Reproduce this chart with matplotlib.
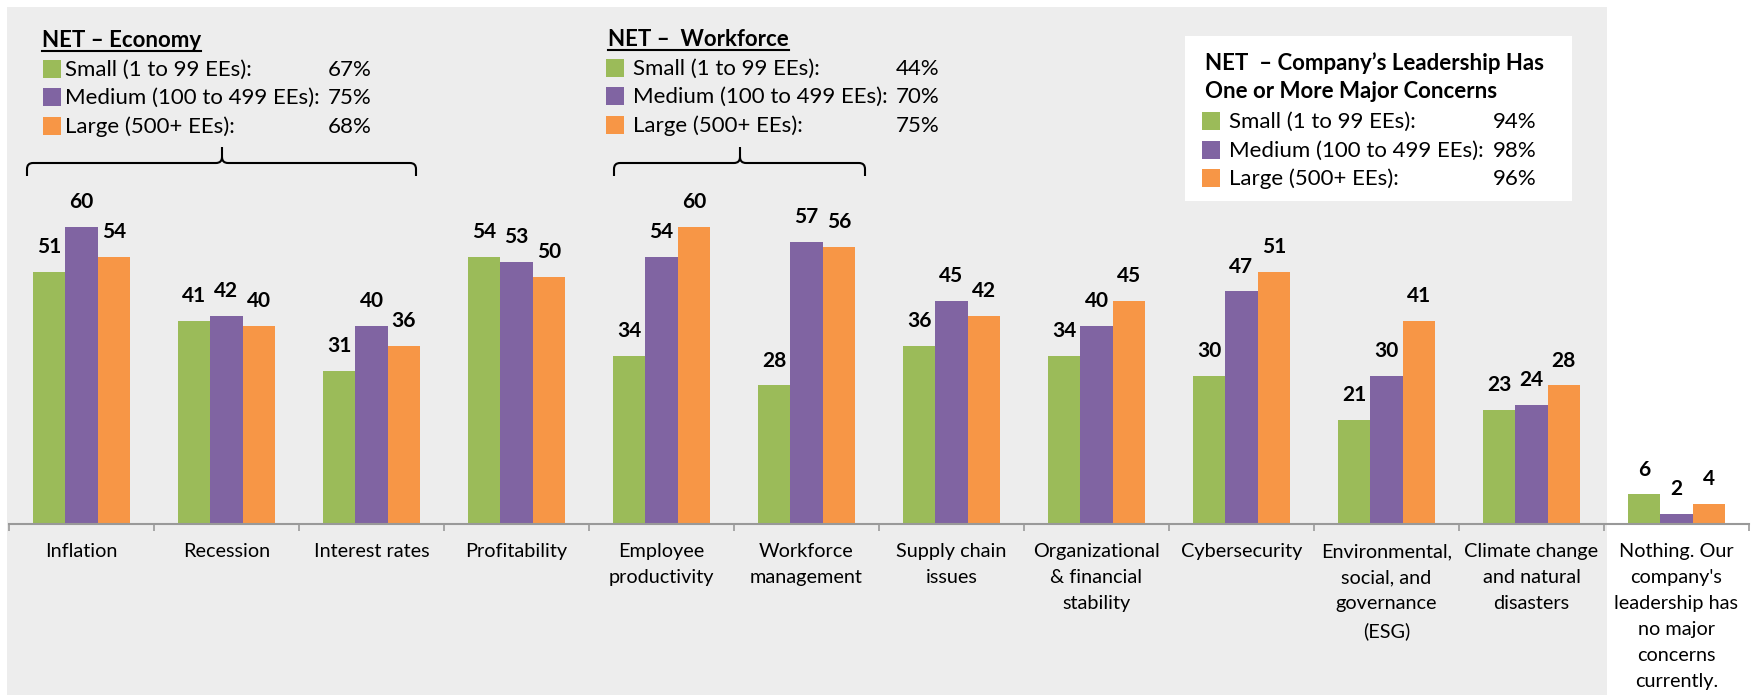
import numpy as np
import matplotlib
matplotlib.use('Agg')
import matplotlib.pyplot as plt
import matplotlib.transforms as mtransforms
from matplotlib.patches import Rectangle, PathPatch
from matplotlib.path import Path
from matplotlib.lines import Line2D

plt.rcParams['font.family'] = ['Lato', 'DejaVu Sans']

# Data
categories = ["Inflation", "Recession", "Interest rates", "Profitability",
              "Employee\nproductivity", "Workforce\nmanagement", "Supply chain\nissues",
              "Organizational\n& financial\nstability", "Cybersecurity",
              "Environmental,\nsocial, and\ngovernance\n(ESG)",
              "Climate change\nand natural\ndisasters",
              "Nothing. Our\ncompany's\nleadership has\nno major\nconcerns\ncurrently."]
small = [51, 41, 31, 54, 34, 28, 36, 34, 30, 21, 23, 6]
medium = [60, 42, 40, 53, 54, 57, 45, 40, 47, 30, 24, 2]
large = [54, 40, 36, 50, 60, 56, 42, 45, 51, 41, 28, 4]

series_names = ["Small (1 to 99 EEs):", "Medium (100 to 499 EEs):", "Large (500+ EEs):"]
net_economy = ["67%", "75%", "68%"]
net_workforce = ["44%", "70%", "75%"]
net_leadership = ["94%", "98%", "96%"]

colors = ['#9BBB59', '#8064A2', '#F79646']
GREY = '#EDEDED'

W, H = 1757, 695
fig = plt.figure(figsize=(W / 100, H / 100), dpi=100)
fig.patch.set_facecolor('white')
# pixel coordinates, origin top-left
pix = mtransforms.Affine2D().scale(1 / W, -1 / H).translate(0, 1) + fig.transFigure

# grey panel behind everything except last category
fig.add_artist(Rectangle((7, 7), 1600, 688, transform=pix, facecolor=GREY,
                         edgecolor='none', zorder=-2))

ax = fig.add_axes([9 / W, (H - 524) / H, 1740 / W, 495 / H])
ax.set_facecolor('none')
ax.set_xlim(-0.5, 11.5)
ax.set_ylim(0, 100)

x = np.arange(len(categories))
w = 0.223
for vals, off, c in zip([small, medium, large], [-w, 0, w], colors):
    bars = ax.bar(x + off, vals, w, color=c, edgecolor='none')
    for b, v in zip(bars, vals):
        ax.annotate(str(v), xy=(b.get_x() + b.get_width() / 2, v), xytext=(0, 13.5),
                    textcoords='offset points', ha='center', va='baseline',
                    fontsize=15, fontweight='bold', color='black')

ax.set_xticks(x)
ax.set_xticklabels(categories, fontsize=14.3, linespacing=1.64)
ax.set_xticks(np.arange(-0.5, 12, 1), minor=True)
ax.tick_params(axis='x', which='major', length=0, pad=14)
ax.tick_params(axis='x', which='minor', length=5, width=1.2, color='#999999')
ax.set_yticks([])
for s in ['left', 'top', 'right']:
    ax.spines[s].set_visible(False)
ax.spines['bottom'].set_color('#999999')
ax.spines['bottom'].set_linewidth(1.5)

# white box behind third legend
fig.add_artist(Rectangle((1185, 36), 387, 165, transform=pix, facecolor='white',
                         edgecolor='none', zorder=-1))


def legend_rows(sx, tx, px_, rows_y, pcts):
    for c, name, p, yy in zip(colors, series_names, pcts, rows_y):
        fig.add_artist(Rectangle((sx, yy - 9), 18, 18, transform=pix, facecolor=c,
                                 edgecolor='none'))
        fig.text(tx, yy + 7, name, transform=pix, fontsize=16, va='baseline', ha='left')
        fig.text(px_, yy + 7, p, transform=pix, fontsize=16, va='baseline', ha='left')


def brace(x0, x1, xm, y=163, ybot=176, ytop=147, r=6):
    verts = [(x0, ybot), (x0, y + r), (x0, y), (x0 + r, y), (xm - r, y), (xm, y), (xm, y - r),
             (xm, ytop), (xm, y - r), (xm, y), (xm + r, y), (x1 - r, y), (x1, y), (x1, y + r),
             (x1, ybot)]
    codes = [Path.MOVETO, Path.LINETO, Path.CURVE3, Path.CURVE3, Path.LINETO, Path.CURVE3,
             Path.CURVE3, Path.LINETO, Path.MOVETO, Path.CURVE3, Path.CURVE3, Path.LINETO,
             Path.CURVE3, Path.CURVE3, Path.LINETO]
    fig.add_artist(PathPatch(Path(verts, codes), transform=pix, facecolor='none',
                             edgecolor='black', lw=1.5))


titles = []
titles.append(fig.text(42, 47, "NET – Economy", transform=pix, fontsize=16,
                       fontweight='bold', va='baseline'))
legend_rows(43, 65, 328, [69, 97, 126], net_economy)
brace(27, 416, 222)

titles.append(fig.text(608, 46, "NET –  Workforce", transform=pix, fontsize=16,
                       fontweight='bold', va='baseline'))
legend_rows(606, 633, 896, [68, 96, 125], net_workforce)
brace(614, 865, 740)

fig.text(1205, 70, "NET  – Company’s Leadership Has", transform=pix, fontsize=16,
         fontweight='bold', va='baseline')
fig.text(1205, 98, "One or More Major Concerns", transform=pix, fontsize=16,
         fontweight='bold', va='baseline')
legend_rows(1202, 1229, 1493, [121, 150, 178], net_leadership)

# underline the first two titles
fig.canvas.draw()
for t in titles:
    bb = t.get_window_extent()
    yb = t.get_position()[1] + 4
    fig.add_artist(Line2D([bb.x0, bb.x1], [yb, yb], transform=pix, color='black', lw=1.5))

fig.savefig('out.png', dpi=100, facecolor='white')
